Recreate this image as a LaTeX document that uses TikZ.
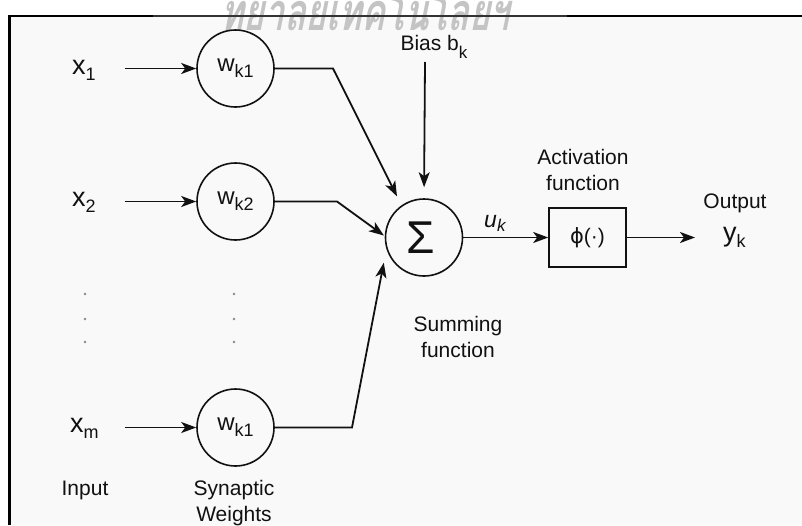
\documentclass[tikz,border=0pt]{standalone}
\usepackage{fontspec}
\setmainfont{Liberation Sans}
\newfontfamily\thaifont[Script=Thai,FakeSlant=0.2,FakeStretch=0.68]{Loma}
\newfontfamily\dvs{DejaVu Sans}
\usetikzlibrary{arrows.meta}
\definecolor{bgc}{HTML}{F9F9F9}
\definecolor{wmc}{HTML}{C4C4C4}
\definecolor{ink}{HTML}{111111}
\definecolor{dotg}{HTML}{888888}
\newcommand{\subx}[3]{\raisebox{#1}{\fontsize{#2}{#2}\selectfont #3}}
\tikzset{
  arr/.style={-{Stealth[length=15pt,width=11pt,inset=4pt]}, line width=1.8pt, draw=ink},
  wcirc/.style={circle, draw=ink, line width=1.6pt, minimum size=77pt, inner sep=0pt, font=\fontsize{24}{24}\selectfont, text=ink},
  actbox/.style={rectangle, draw=ink, line width=1.6pt, minimum width=77pt, minimum height=59pt, inner sep=0pt, font=\fontsize{21}{21}\selectfont, text=ink},
  lbl/.style={font=\fontsize{21}{26}\selectfont, text=ink, align=center, inner sep=0pt},
  big/.style={font=\fontsize{27}{27}\selectfont, text=ink, inner sep=0pt},
  dotc/.style={fill=dotg, circle, inner sep=0pt, minimum size=2.6pt}
}
\begin{document}
\begin{tikzpicture}[x=1pt,y=-1pt]
\useasboundingbox (0,0) rectangle (802,525);
\fill[white] (0,0) rectangle (802,525);
\fill[bgc] (10,16) rectangle (802,525);
% watermark
\node[anchor=base west, inner sep=0pt, text=wmc, font=\thaifont\bfseries\fontsize{52}{52}\selectfont] (wmk) at (220,30) {\raisebox{0pt}[\height][0pt]{ทยาลัยเทคโนโลยีฯ}};
% frame
\draw[line width=2.6pt, black] (9.5,525) -- (9.5,16) -- (802,16);
\draw[line width=2.6pt, black!80] (153,16) -- (567,16);

% inputs
\node[big, anchor=base west] (x1) at (72,74) {x\subx{-6pt}{18}{1}};
\node[big, anchor=base west] (x2) at (72,206) {x\subx{-6pt}{18}{2}};
\node[big, anchor=base west] (xm) at (70,432) {x\subx{-6pt}{18}{m}};

% weights
\node[wcirc] (w1) at (235.5,68.5) {w\subx{-6pt}{18}{k1}};
\node[wcirc] (w2) at (235.5,201.5) {w\subx{-6pt}{18}{k2}};
\node[wcirc] (wm) at (235.5,427.5) {w\subx{-6pt}{18}{k1}};

% dots
\foreach \yy [count=\i] in {294,319,342}{
  \node[dotc] (dl\i) at (85,\yy) {};
  \node[dotc] (dr\i) at (234,\yy) {};
}

% sum
\node[wcirc, font=\fontsize{46}{46}\selectfont] (sig) at (424,237.5) {\raisebox{-4pt}{Σ}\kern 7pt};
\node[lbl, anchor=base] (bias) at (434,50) {Bias b\subx{-8pt}{17}{k}};
\node[lbl] (sumlbl) at (458,336.5) {Summing\\function};

% activation
\node[actbox] (act) at (587.5,237.5) {{\dvs ϕ}(·)};
\node[lbl] (actlbl) at (583,170) {Activation\\function};
\node[anchor=base west, inner sep=0pt, text=ink, font=\fontsize{23}{23}\selectfont\itshape] (uk) at (484,227) {u\subx{-4pt}{17}{k}};

% output
\node[lbl] (out) at (735,203) {Output};
\node[big, anchor=base west] (yk) at (723,241) {y\subx{-6pt}{18}{k}};

% labels
\node[lbl] (inlbl) at (85,490) {Input};
\node[lbl] (synlbl) at (234,503.5) {Synaptic\\Weights};

% connectors
\coordinate (s1) at (125,68.5);
\coordinate (s2) at (125,201.5);
\coordinate (sm) at (125,427.5);
\draw[arr] (s1) -- (w1);
\draw[arr] (s2) -- (w2);
\draw[arr] (sm) -- (wm);

\coordinate (b1) at (333,68.5);
\coordinate (b2) at (337,201.5);
\coordinate (bm) at (352,427.5);
\draw[arr, shorten >=10pt] (w1.east) -- (b1) -- (sig.125);
\draw[arr, shorten >=1pt] (w2.east) -- (b2) -- (sig.178);
\draw[arr, shorten >=14pt] (wm.east) -- (bm) -- (sig.197);

\coordinate (bs) at (425,62);
\draw[arr, shorten >=11pt] (bs) -- (sig.north);
\draw[arr] (sig) -- (act);
\coordinate (oe) at (695,237.5);
\draw[arr] (act) -- (oe);
\end{tikzpicture}
\end{document}
